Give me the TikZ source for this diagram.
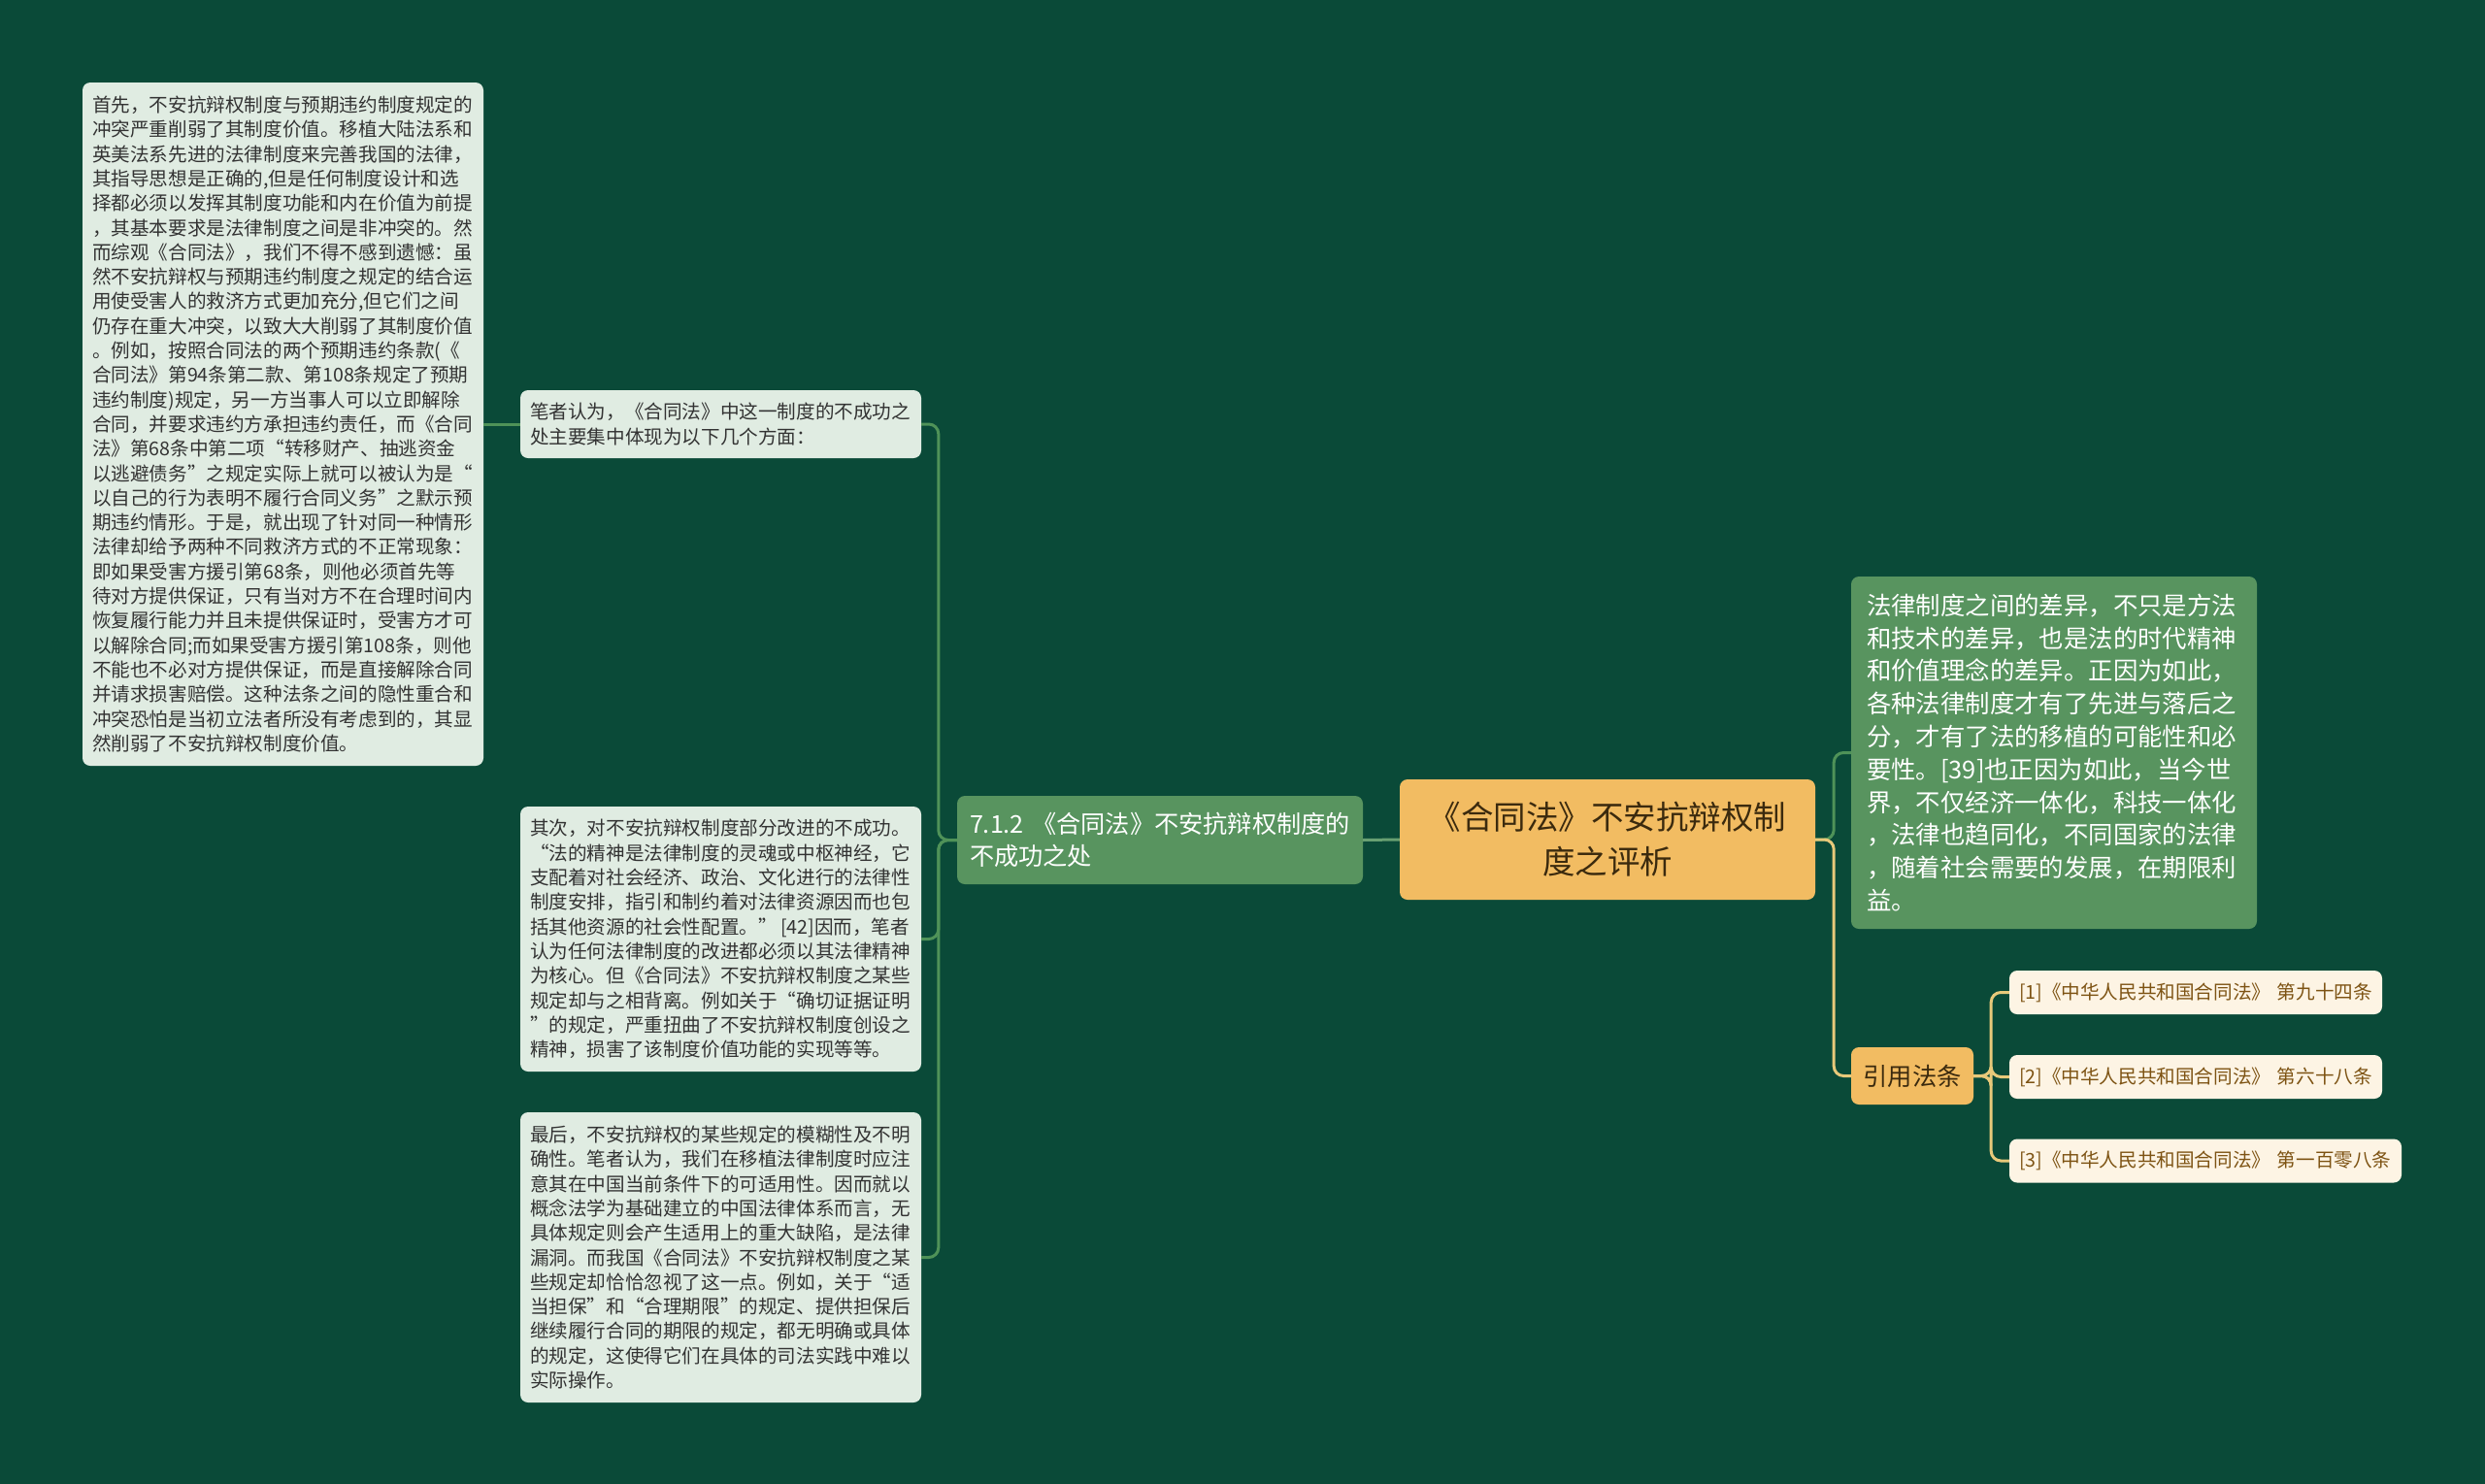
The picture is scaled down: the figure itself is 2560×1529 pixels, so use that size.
\documentclass[tikz,border=0pt]{standalone}
\usepackage{fontspec}
\newfontfamily\cjk{Noto Sans CJK SC}
\usepackage{tikz}
\definecolor{bg}{RGB}{10,74,56}
\definecolor{pale}{RGB}{224,236,226}
\definecolor{leaf}{RGB}{88,148,95}
\definecolor{gold}{RGB}{242,188,98}
\definecolor{cream}{RGB}{253,244,228}
\definecolor{brownish}{RGB}{125,83,19}
\definecolor{greenline}{RGB}{79,146,88}
\definecolor{paleline}{RGB}{104,160,114}
\definecolor{yellowline}{RGB}{232,201,122}
\definecolor{ink}{RGB}{51,51,51}
\definecolor{dark}{RGB}{59,42,14}

\begin{document}
\begin{tikzpicture}[x=1pt,y=-1pt,
  box/.style={rounded corners=8pt, inner sep=0pt, align=left},
  palebox/.style={box, fill=pale, text=ink, minimum width=413pt, text width=393pt,
    font=\cjk\fontsize{19.6}{25.3}\selectfont},
  leafbox/.style={box, fill=leaf, text=white, font=\cjk\fontsize{25.2}{33.6}\selectfont},
  goldbox/.style={box, fill=gold, text=dark},
  lawbox/.style={box, fill=cream, text=brownish, minimum height=45pt,
    font=\cjk\fontsize{19.6}{24}\selectfont},
  gl/.style={draw=greenline, line width=3pt, rounded corners=10pt},
  yl/.style={draw=yellowline, line width=3pt, rounded corners=10pt}]
	%\draw [help lines] (0,0) grid (2560,1529);
	\useasboundingbox (0,0) rectangle (2560,1529);
	\fill [bg] (0,0) rectangle (2560,1529);

	% root and its two sides
	\node [goldbox, align=center, minimum width=428pt, minimum height=124pt,
	  font=\cjk\fontsize{33.5}{46}\selectfont] (root) at (1656,865)
	  {《合同法》不安抗辩权制\\度之评析};
	\node [leafbox, minimum width=418pt, minimum height=91pt, text width=392pt] (sub) at (1195,865.5)
	  {7.1.2 《合同法》不安抗辩权制度的\\不成功之处};

	% left leaves
	\node [palebox, minimum height=70pt] (view) at (742.5,437)
	  {笔者认为，《合同法》中这一制度的不成功之\\处主要集中体现为以下几个方面：};
	\node [palebox, minimum height=704pt] (first) at (291.5,437)
	  {首先，不安抗辩权制度与预期违约制度规定的\\
	   冲突严重削弱了其制度价值。移植大陆法系和\\
	   英美法系先进的法律制度来完善我国的法律，\\
	   其指导思想是正确的,但是任何制度设计和选\\
	   择都必须以发挥其制度功能和内在价值为前提\\
	   ，其基本要求是法律制度之间是非冲突的。然\\
	   而综观《合同法》，我们不得不感到遗憾：虽\\
	   然不安抗辩权与预期违约制度之规定的结合运\\
	   用使受害人的救济方式更加充分,但它们之间\\
	   仍存在重大冲突，以致大大削弱了其制度价值\\
	   。例如，按照合同法的两个预期违约条款(《\\
	   合同法》第94条第二款、第108条规定了预期\\
	   违约制度)规定，另一方当事人可以立即解除\\
	   合同，并要求违约方承担违约责任，而《合同\\
	   法》第68条中第二项“转移财产、抽逃资金\\
	   以逃避债务”之规定实际上就可以被认为是“\\
	   以自己的行为表明不履行合同义务”之默示预\\
	   期违约情形。于是，就出现了针对同一种情形\\
	   法律却给予两种不同救济方式的不正常现象：\\
	   即如果受害方援引第68条，则他必须首先等\\
	   待对方提供保证，只有当对方不在合理时间内\\
	   恢复履行能力并且未提供保证时，受害方才可\\
	   以解除合同;而如果受害方援引第108条，则他\\
	   不能也不必对方提供保证，而是直接解除合同\\
	   并请求损害赔偿。这种法条之间的隐性重合和\\
	   冲突恐怕是当初立法者所没有考虑到的，其显\\
	   然削弱了不安抗辩权制度价值。};
	\node [palebox, minimum height=273pt] (second) at (742.5,967.5)
	  {其次，对不安抗辩权制度部分改进的不成功。\\
	   “法的精神是法律制度的灵魂或中枢神经，它\\
	   支配着对社会经济、政治、文化进行的法律性\\
	   制度安排，指引和制约着对法律资源因而也包\\
	   \mbox{括其他资源的社会性配置。”\,[42]因而，笔者}\\
	   认为任何法律制度的改进都必须以其法律精神\\
	   为核心。但《合同法》不安抗辩权制度之某些\\
	   规定却与之相背离。例如关于“确切证据证明\\
	   ”的规定，严重扭曲了不安抗辩权制度创设之\\
	   精神，损害了该制度价值功能的实现等等。};
	\node [palebox, minimum height=299pt] (third) at (742.5,1295.5)
	  {最后，不安抗辩权的某些规定的模糊性及不明\\
	   确性。笔者认为，我们在移植法律制度时应注\\
	   意其在中国当前条件下的可适用性。因而就以\\
	   概念法学为基础建立的中国法律体系而言，无\\
	   具体规定则会产生适用上的重大缺陷，是法律\\
	   漏洞。而我国《合同法》不安抗辩权制度之某\\
	   些规定却恰恰忽视了这一点。例如，关于“适\\
	   当担保”和“合理期限”的规定、提供担保后\\
	   继续履行合同的期限的规定，都无明确或具体\\
	   的规定，这使得它们在具体的司法实践中难以\\
	   实际操作。};

	% right leaves
	\node [leafbox, minimum width=418pt, minimum height=363pt, text width=386pt,
	  font=\cjk\fontsize{25.4}{33.8}\selectfont] (note) at (2116,775.5)
	  {法律制度之间的差异，不只是方法\\
	   和技术的差异，也是法的时代精神\\
	   和价值理念的差异。正因为如此，\\
	   各种法律制度才有了先进与落后之\\
	   分，才有了法的移植的可能性和必\\
	   要性。[39]也正因为如此，当今世\\
	   界，不仅经济一体化，科技一体化\\
	   ，法律也趋同化，不同国家的法律\\
	   ，随着社会需要的发展，在期限利\\
	   益。};
	\node [goldbox, align=center, minimum width=126pt, minimum height=59pt,
	  font=\cjk\fontsize{25.3}{30}\selectfont] (cite) at (1970,1108.5) {引用法条};
	\node [lawbox, minimum width=384pt, text width=364pt] (law1) at (2262,1022.5)
	  {[1]《中华人民共和国合同法》 第九十四条};
	\node [lawbox, minimum width=384pt, text width=364pt] (law2) at (2262,1109.5)
	  {[2]《中华人民共和国合同法》 第六十八条};
	\node [lawbox, minimum width=404pt, text width=384pt] (law3) at (2272,1196)
	  {[3]《中华人民共和国合同法》 第一百零八条};

	% connectors
	\draw [draw=paleline, line width=3pt] (root.west) -- (sub.east);
	\draw [gl] (sub.west) -- ++(-19,0) |- (view.east);
	\draw [gl] (sub.west) -- ++(-19,0) |- (second.east);
	\draw [gl] (sub.west) -- ++(-19,0) |- (third.east);
	\draw [gl] (view.west) -- (first.east);
	\draw [gl] (root.east) -- ++(19,0) |- (note.west);
	\draw [yl] (root.east) -- ++(19,0) |- (cite.west);
	\draw [yl] (cite.east) -- ++(18,0) |- (law1.west);
	\draw [yl] (cite.east) -- ++(18,0) |- (law2.west);
	\draw [yl] (cite.east) -- ++(18,0) |- (law3.west);
\end{tikzpicture}
\end{document}
